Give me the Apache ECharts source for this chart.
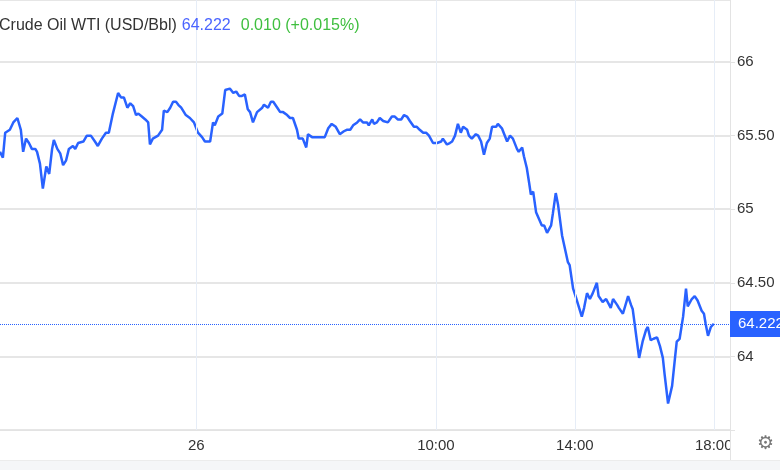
<!DOCTYPE html>
<html>
<head>
<meta charset="utf-8">
<script src="https://cdn.jsdelivr.net/npm/echarts@6/dist/echarts.min.js"></script>
<style>
  html, body { margin: 0; padding: 0; background: #fff; }
  #main { width: 780px; height: 470px; }
</style>
</head>
<body>
<div id="main"></div>
<script>
// trading minutes from the left edge of the chart
const mins = [
  -3, 2, 6, 9, 14, 20, 27, 33, 37, 42, 47, 52, 58, 61, 66, 71, 77, 82, 87, 90,
  96, 101, 106, 111, 116, 123, 127, 132, 141, 147, 154, 161, 166, 173, 180, 185, 192, 201, 206, 211,
  217, 222, 227, 232, 236, 242, 248, 253, 256, 261, 270, 277, 280, 286, 291, 296, 301, 305, 310, 313,
  318, 325, 332, 339, 346, 351, 360, 365, 368, 374, 381, 386, 394, 400, 405, 410, 415, 420, 425, 429,
  434, 441, 450, 453, 460, 465, 469, 476, 481, 486, 493, 498, 503, 510, 513, 520, 526, 529, 536, 541,
  558, 564, 570, 577, 584, 591, 596, 602, 607, 614, 619, 624, 631, 634, 640, 643, 648, 653, 659, 667,
  674, 679, 684, 690, 695, 700, 705, 712, 717, 722, 728, 733, 738, 745, 752, 759, 762, 769, 774, 778,
  783, 788, 793, 797, 804, 807, 812, 819, 823, 828, 833, 838, 843, 847, 854, 857, 864, 867, 873, 878,
  883, 890, 893, 899, 902, 907, 911, 914, 918, 923, 926, 933, 937, 942, 949, 952, 957, 961, 968, 973,
  978, 981, 987, 992, 995, 1002, 1006, 1011, 1016, 1021, 1028, 1031, 1038, 1044, 1047, 1052, 1056, 1063, 1066, 1073,
  1076, 1082, 1087, 1090, 1097, 1101, 1107, 1113, 1116, 1121, 1126, 1132, 1137, 1142, 1145, 1151, 1158, 1163, 1166, 1171,
  1177, 1182, 1185, 1192, 1197, 1202, 1209, 1213, 1216, 1220, 1225, 1230
];

const prices = [
  65.39, 65.35, 65.52, 65.51, 65.54, 65.59, 65.62, 65.54, 65.39, 65.48, 65.45, 65.41, 65.41, 65.39, 65.31, 65.14, 65.29, 65.24, 65.41, 65.47,
  65.41, 65.38, 65.30, 65.33, 65.41, 65.43, 65.41, 65.45, 65.46, 65.50, 65.50, 65.46, 65.43, 65.48, 65.52, 65.52, 65.65, 65.79, 65.76, 65.76,
  65.69, 65.72, 65.70, 65.64, 65.65, 65.63, 65.61, 65.59, 65.44, 65.48, 65.50, 65.54, 65.67, 65.66, 65.69, 65.73, 65.73, 65.71, 65.69, 65.69,
  65.64, 65.62, 65.59, 65.52, 65.49, 65.46, 65.46, 65.59, 65.57, 65.63, 65.65, 65.81, 65.82, 65.79, 65.80, 65.77, 65.77, 65.78, 65.68, 65.66,
  65.59, 65.66, 65.69, 65.71, 65.69, 65.73, 65.73, 65.69, 65.66, 65.66, 65.64, 65.62, 65.62, 65.54, 65.48, 65.48, 65.42, 65.51, 65.49, 65.49,
  65.49, 65.55, 65.58, 65.56, 65.51, 65.53, 65.54, 65.54, 65.57, 65.59, 65.61, 65.59, 65.59, 65.57, 65.61, 65.58, 65.59, 65.62, 65.60, 65.59,
  65.63, 65.63, 65.61, 65.61, 65.64, 65.63, 65.60, 65.56, 65.56, 65.54, 65.52, 65.52, 65.50, 65.45, 65.45, 65.46, 65.48, 65.44, 65.45, 65.46,
  65.50, 65.58, 65.52, 65.56, 65.54, 65.50, 65.48, 65.51, 65.50, 65.46, 65.37, 65.45, 65.48, 65.56, 65.56, 65.58, 65.55, 65.52, 65.46, 65.50,
  65.48, 65.41, 65.39, 65.42, 65.36, 65.28, 65.18, 65.10, 65.12, 64.98, 64.97, 64.89, 64.89, 64.84, 64.89, 64.97, 65.11, 65.03, 64.82, 64.73,
  64.64, 64.62, 64.46, 64.40, 64.40, 64.27, 64.33, 64.43, 64.39, 64.43, 64.50, 64.41, 64.37, 64.39, 64.39, 64.33, 64.39, 64.35, 64.33, 64.29,
  64.29, 64.41, 64.35, 64.32, 64.11, 63.99, 64.10, 64.18, 64.20, 64.11, 64.12, 64.13, 64.07, 63.99, 63.88, 63.68, 63.80, 63.99, 64.10, 64.12,
  64.27, 64.46, 64.34, 64.39, 64.41, 64.38, 64.31, 64.29, 64.22, 64.14, 64.20, 64.222
];

const tickValues = [336, 750, 990, 1230];
const tickLabels = ["26", "10:00", "14:00", "18:00"];
const lastPrice = 64.222;

const chart = echarts.init(document.getElementById("main"));

const titleFont = { fontFamily: "Liberation Sans", fontSize: 16, fontWeight: "normal" };

const option = {
  animation: false,
  backgroundColor: "#fff",
  title: {
    left: -6,
    top: 12,
    text: "{n|Crude Oil WTI (USD/Bbl)} {p|64.222}  {c|0.010 (+0.015%)}",
    textStyle: {
      fontWeight: "normal",
      rich: {
        n: Object.assign({ color: "#333" }, titleFont),
        p: Object.assign({ color: "#4a64ff" }, titleFont),
        c: Object.assign({ color: "#3fbf3f" }, titleFont)
      }
    }
  },
  grid: { left: 0, right: 50, top: 0, bottom: 40 },
  xAxis: {
    type: "value",
    min: -3,
    max: 1258,
    axisLine: { show: true, onZero: false, lineStyle: { color: "#e3e3e3", width: 1 } },
    axisTick: { show: false, customValues: tickValues },
    splitLine: { show: false },
    axisLabel: {
      customValues: tickValues,
      fontFamily: "Liberation Sans",
      fontSize: 15,
      color: "#333",
      margin: 8,
      formatter: function (v) {
        return tickLabels[tickValues.indexOf(v)] || "";
      }
    }
  },
  yAxis: {
    type: "value",
    position: "right",
    min: 63.5,
    max: 66.4218,
    interval: 0.5,
    axisLine: { show: true, onZero: false, lineStyle: { color: "#e3e3e3" } },
    axisTick: { show: true, length: 5, lineStyle: { color: "#e3e3e3" } },
    splitLine: { show: true, lineStyle: { color: "#e6e6e6", width: 2 } },
    axisLabel: {
      fontFamily: "Liberation Sans",
      fontSize: 15,
      color: "#333",
      margin: 7,
      showMaxLabel: false,
      formatter: function (v) {
        if (v <= 63.5 || v > 66.01) return "";
        return Number.isInteger(v) ? String(v) : v.toFixed(2);
      }
    }
  },
  series: [
    {
      // vertical time grid lines
      type: "line",
      z: 1,
      data: [],
      markLine: {
        silent: true,
        symbol: "none",
        label: { show: false },
        lineStyle: { color: "#e6edf7", type: "solid", width: 1 },
        data: tickValues.map(v => ({ xAxis: v }))
      }
    },
    {
      type: "line",
      z: 3,
      data: mins.map((m, i) => [m, prices[i]]),
      showSymbol: false,
      lineStyle: { color: "#2962ff", width: 2.5 },
      itemStyle: { color: "#2962ff" },
      markLine: {
        silent: true,
        symbol: "none",
        lineStyle: { color: "#2962ff", type: "dotted", width: 1 },
        label: {
          position: "end",
          distance: 0,
          formatter: String(lastPrice),
          backgroundColor: "#2962ff",
          color: "#fff",
          fontFamily: "Liberation Sans",
          fontSize: 15,
          padding: [6, 8, 5, 8]
        },
        data: [{ yAxis: lastPrice }]
      }
    }
  ],
  graphic: [
    { type: "rect", z: 100, shape: { x: 731, y: 431, width: 49, height: 29 }, style: { fill: "#fff" } },
    { type: "line", z: 101, shape: { x1: 730.5, y1: 430, x2: 730.5, y2: 460 }, style: { stroke: "#e3e3e3", lineWidth: 1 } },
    { type: "rect", z: 100, shape: { x: 0, y: 460, width: 780, height: 10 }, style: { fill: "#f5f6f8" } },
    { type: "line", z: 101, shape: { x1: 0, y1: 460.5, x2: 780, y2: 460.5 }, style: { stroke: "#ececec", lineWidth: 1 } },
    { type: "text", z: 102, x: 757, y: 435, style: { text: "\u2699", fontSize: 19, fill: "#777", fontFamily: "DejaVu Sans" } }
  ]
};

chart.setOption(option);
</script>
</body>
</html>
